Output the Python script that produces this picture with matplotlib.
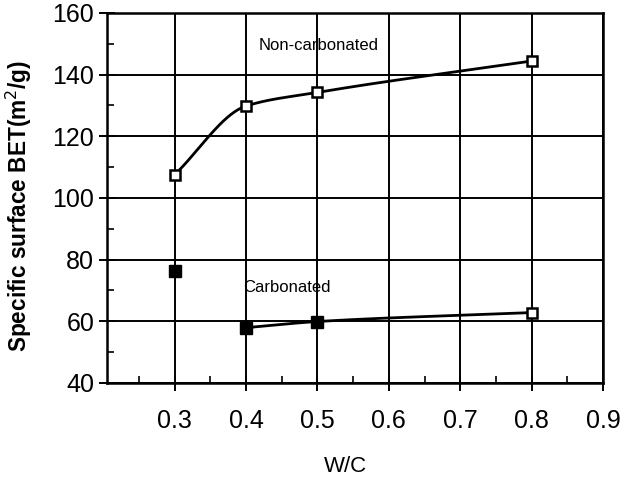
import numpy as np
import matplotlib.pyplot as plt
from matplotlib.ticker import MultipleLocator

plt.rcParams['font.family'] = ['Liberation Sans', 'DejaVu Sans']

# --- data ---
wc = [0.3, 0.4, 0.5, 0.8]
non_carbonated = [107.5, 129.8, 134.2, 144.4]
carbonated = [76.4, 57.9, 59.9, 62.8]
x_ticks = [0.3, 0.4, 0.5, 0.6, 0.7, 0.8, 0.9]
y_ticks = [40, 60, 80, 100, 120, 140, 160]


def pchip(x, y, xs):
    # monotone cubic curve through the measured points (just for the line shape)
    x = np.asarray(x, float)
    y = np.asarray(y, float)
    h = np.diff(x)
    d = np.diff(y) / h
    m = np.zeros_like(y)
    for k in range(1, len(x) - 1):
        if d[k - 1] * d[k] > 0:
            w1 = 2 * h[k] + h[k - 1]
            w2 = h[k] + 2 * h[k - 1]
            m[k] = (w1 + w2) / (w1 / d[k - 1] + w2 / d[k])
    m[0] = d[0]
    m[-1] = d[-1]
    out = np.empty_like(xs)
    for i, xv in enumerate(xs):
        k = min(np.searchsorted(x, xv, side='right') - 1, len(x) - 2)
        t = (xv - x[k]) / h[k]
        h00 = 2 * t**3 - 3 * t**2 + 1
        h10 = t**3 - 2 * t**2 + t
        h01 = -2 * t**3 + 3 * t**2
        h11 = t**3 - t**2
        out[i] = h00 * y[k] + h10 * h[k] * m[k] + h01 * y[k + 1] + h11 * h[k] * m[k + 1]
    return out


fig = plt.figure(figsize=(6.21, 4.78), dpi=100)
ax = fig.add_axes([0.172, 0.199, 0.799, 0.774])

# curves
xs = np.linspace(wc[0], wc[-1], 200)
ax.plot(xs, pchip(wc, non_carbonated, xs), color='black', lw=2, zorder=3)
xs2 = np.linspace(wc[1], wc[-1], 200)
ax.plot(xs2, pchip(wc[1:], carbonated[1:], xs2), color='black', lw=2, zorder=3)

# markers
ax.plot(wc, non_carbonated, ls='none', marker='s', ms=7, mfc='white',
        mec='black', mew=1.8, zorder=4)
ax.plot(wc[:3], carbonated[:3], ls='none', marker='s', ms=8, mfc='black',
        mec='black', zorder=4)
ax.plot(wc[3:], carbonated[3:], ls='none', marker='s', ms=7, mfc='white',
        mec='black', mew=1.8, zorder=4)

ax.text(0.417, 149.5, 'Non-carbonated', fontsize=12, va='center', ha='left')
ax.text(0.396, 71, 'Carbonated', fontsize=12, va='center', ha='left')

ax.set_xlim(0.205, 0.9)
ax.set_ylim(40, 160)
ax.set_xticks(x_ticks)
ax.set_xticklabels([f'{t:.1f}' for t in x_ticks])
ax.set_yticks(y_ticks)
ax.xaxis.set_minor_locator(MultipleLocator(0.05))
ax.yaxis.set_minor_locator(MultipleLocator(10))
ax.grid(True, which='major', color='black', lw=1.4)
ax.tick_params(which='major', direction='inout', length=12, width=1.4,
               labelsize=18, color='black')
ax.tick_params(axis='x', which='major', pad=13)
ax.tick_params(axis='y', which='major', pad=3)
ax.tick_params(which='minor', direction='in', length=5, width=1.2)
for s in ax.spines.values():
    s.set_linewidth(1.8)

ax.set_xlabel('W/C', fontsize=16)
ax.xaxis.set_label_coords(0.48, -0.197)
ax.set_ylabel('Specific surface BET(m$^2$/g)', fontsize=16.3, fontweight='bold')
ax.yaxis.set_label_coords(-0.147, 0.477)

fig.savefig('out.png', dpi=100)
